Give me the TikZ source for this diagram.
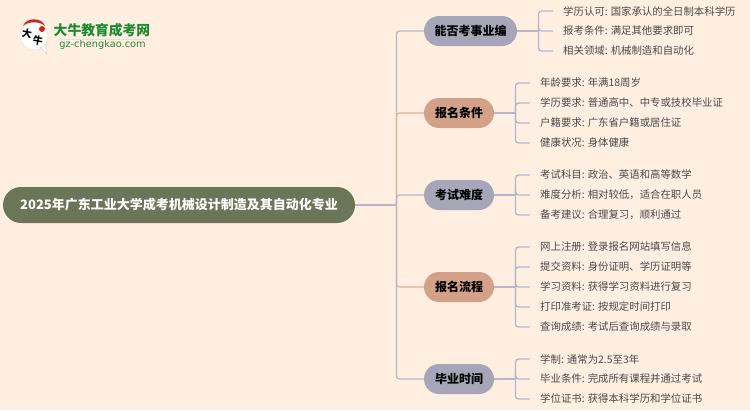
\documentclass[tikz,border=0pt]{standalone}
\usepackage{fontspec}
\setmainfont{Noto Sans CJK SC}
\newfontfamily\urlfont{DejaVu Sans}
\definecolor{paper}{HTML}{FFEFE1}
\definecolor{rootfill}{HTML}{6B7558}
\definecolor{greyfill}{HTML}{A6A6B8}
\definecolor{tanfill}{HTML}{D2A187}
\definecolor{greyline}{HTML}{B5B5CC}
\definecolor{tanline}{HTML}{E3B296}
\definecolor{leaftext}{HTML}{4A4A4A}
\definecolor{logogreen}{HTML}{1E8A32}
\definecolor{logored}{HTML}{C8281E}
\tikzset{
  wire/.style={draw=greyline, line width=1.3pt, rounded corners=3pt},
  tanwire/.style={draw=tanline, line width=1.3pt, rounded corners=3pt},
  rootbox/.style={fill=rootfill, text=white, rounded corners=18pt, minimum width=352pt, minimum height=36pt, font=\fontsize{13}{13}\selectfont\bfseries},
  greybox/.style={fill=greyfill, rounded corners=15pt, minimum height=30pt, inner xsep=0pt, font=\fontsize{12}{12}\selectfont\bfseries},
  tanbox/.style={greybox, fill=tanfill},
  leaf/.style={anchor=west, inner xsep=10pt, inner ysep=0pt, text=leaftext, font=\fontsize{10.4}{11}\selectfont},
  brush/.style={inner sep=0pt, rotate=-10, font=\fontsize{10}{10}\selectfont\bfseries},
}
\begin{document}
\begin{tikzpicture}[x=1pt, y=-1pt]
    \fill[paper] (0,0) rectangle (750,410);
    \useasboundingbox (0,0) rectangle (750,410);

    % logo
    \fill[white, draw=black!15, line width=.4pt] (34,36) circle (14)
      (40,47) -- (47,54) -- (45,44);
    \fill[logored] (23,26) .. controls (26,17) and (42,17) .. (45,26) .. controls (40,21) and (28,21) .. cycle;
    \fill[logored] (42,29) circle (3);
    \node[brush] (logoa) at (27,34) {大};
    \node[brush] (logob) at (38,41) {牛};
    \node[text=logogreen, font=\fontsize{13.8}{13}\selectfont\bfseries] (logoname) at (102,30) {大牛教育成考网};
    \node[text=logogreen, inner sep=1pt, font=\fontsize{9.8}{10}\urlfont] (logourl) at (102.5,45) {gz-chengkao.com};
    \draw[black!12, line width=.7pt] (logourl.north west) -- (logourl.north east);

    \node[rootbox] (root) at (179,205) {2025年广东工业大学成考机械设计制造及其自动化专业};

    \node[greybox, minimum width=93pt] (b1) at (470.5,31) {能否考事业编};
    \node[tanbox, minimum width=70pt] (b2) at (459,113) {报名条件};
    \node[greybox, minimum width=70pt] (b3) at (459,195) {考试难度};
    \node[tanbox, minimum width=70pt] (b4) at (459,287) {报名流程};
    \node[greybox, minimum width=70pt] (b5) at (459,379) {毕业时间};

    \coordinate (hub) at (396.5,205);
    \coordinate (j1) at (538.5,31);
    \coordinate (j2) at (515.5,113);
    \coordinate (j3) at (515.5,195);
    \coordinate (j4) at (515.5,287);
    \coordinate (j5) at (515.5,379);

    \node[leaf] (a1) at (553,11) {学历认可: 国家承认的全日制本科学历};
    \node[leaf] (a2) at (553,31) {报考条件: 满足其他要求即可};
    \node[leaf] (a3) at (553,51) {相关领域: 机械制造和自动化};

    \node[leaf] (c1) at (530,83) {年龄要求: 年满18周岁};
    \node[leaf] (c2) at (530,103) {学历要求: 普通高中、中专或技校毕业证};
    \node[leaf] (c3) at (530,123) {户籍要求: 广东省户籍或居住证};
    \node[leaf] (c4) at (530,143) {健康状况: 身体健康};

    \node[leaf] (d1) at (530,175) {考试科目: 政治、英语和高等数学};
    \node[leaf] (d2) at (530,195) {难度分析: 相对较低，适合在职人员};
    \node[leaf] (d3) at (530,215) {备考建议: 合理复习，顺利通过};

    \node[leaf] (e1) at (530,247) {网上注册: 登录报名网站填写信息};
    \node[leaf] (e2) at (530,267) {提交资料: 身份证明、学历证明等};
    \node[leaf] (e3) at (530,287) {学习资料: 获得学习资料进行复习};
    \node[leaf] (e4) at (530,307) {打印准考证: 按规定时间打印};
    \node[leaf] (e5) at (530,327) {查询成绩: 考试后查询成绩与录取};

    \node[leaf] (f1) at (530,359) {学制: 通常为2.5至3年};
    \node[leaf] (f2) at (530,379) {毕业条件: 完成所有课程并通过考试};
    \node[leaf] (f3) at (530,399) {学位证书: 获得本科学历和学位证书};

    % order matters here, later wires lie on top
    \draw[wire] (hub) |- (b1.west);
    \draw[tanwire] (hub) |- (b2.west);
    \draw[tanwire] (hub) |- (b4.west);
    \draw[wire] (root.east) -- (hub);
    \draw[wire] (hub) |- (b3.west);
    \draw[wire] (hub) |- (b5.west);

    \foreach \b/\j in {b1/j1,b2/j2,b3/j3,b4/j4,b5/j5}
      \draw[wire] (\b.east) -- (\j);
    \foreach \n in {a1,a2,a3}
      \draw[wire] (j1) |- (\n.west);
    \foreach \n in {c1,c2,c3,c4}
      \draw[wire] (j2) |- (\n.west);
    \foreach \n in {d1,d2,d3}
      \draw[wire] (j3) |- (\n.west);
    \foreach \n in {e1,e2,e3,e4,e5}
      \draw[wire] (j4) |- (\n.west);
    \foreach \n in {f1,f2,f3}
      \draw[wire] (j5) |- (\n.west);
\end{tikzpicture}
\end{document}
